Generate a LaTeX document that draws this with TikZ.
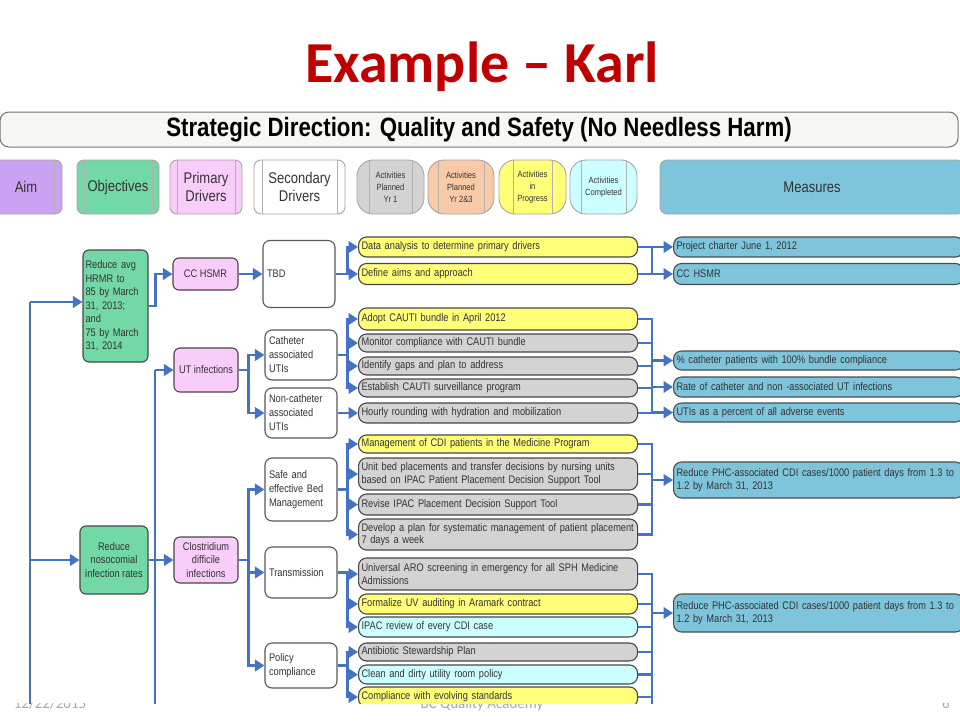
\documentclass[tikz,border=0pt]{standalone}
\usepackage{fontspec}
\setmainfont{Liberation Sans}[FakeStretch=0.84]
\newfontfamily\titlefont{Carlito}
\usetikzlibrary{arrows.meta}
\definecolor{titlered}{HTML}{C00000}
\definecolor{lineblue}{HTML}{4472C4}
\definecolor{cyell}{HTML}{FFFF78}
\definecolor{cgray}{HTML}{D3D3D3}
\definecolor{ccyan}{HTML}{CCFFFF}
\definecolor{cmeas}{HTML}{7EC5DC}
\definecolor{cgreen}{HTML}{72D8A6}
\definecolor{cpink}{HTML}{F9CDF9}
\definecolor{cpurple}{HTML}{CBA2F2}
\definecolor{corange}{HTML}{F9CAA8}
\definecolor{cbanner}{HTML}{F7F8F3}
\definecolor{txt}{HTML}{333333}
\definecolor{footgray}{HTML}{A6A6A6}
\tikzset{
  conn/.style={draw=lineblue, line width=2.3pt},
  arr/.style={conn, -{Triangle[length=9.5pt,width=11.5pt]}},
  hpic/.style={path picture={
     \draw[black!30, line width=0.8pt] ([xshift=#1]path picture bounding box.north west) -- ([xshift=#1]path picture bounding box.south west);
     \draw[black!30, line width=0.8pt] ([xshift=-#1]path picture bounding box.north east) -- ([xshift=-#1]path picture bounding box.south east);}},
  hdr/.style={draw=black!35, line width=0.9pt, rounded corners=7pt, minimum height=54pt, align=center, text=txt, font=\fontsize{15.5}{17.5}\selectfont, inner sep=0pt},
  hact/.style={hdr, rounded corners=16pt, font=\fontsize{9}{12}\selectfont},
  act/.style={draw=black!72, line width=1.1pt, rounded corners=8pt, anchor=west, text width=273pt, align=left, inner xsep=3pt, inner ysep=0pt, font=\fontsize{11}{12.5}\selectfont, text=txt},
  meas/.style={draw=black!70, line width=1.1pt, rounded corners=8pt, anchor=west, text width=284pt, align=left, inner xsep=3pt, inner ysep=0pt, font=\fontsize{11}{13}\selectfont, text=txt, fill=cmeas},
  leftbox/.style={draw=black!72, line width=1.1pt, rounded corners=6pt, inner sep=0pt, font=\fontsize{11}{13.5}\selectfont, text=txt},
  secbox/.style={draw=black!65, line width=1.1pt, rounded corners=7pt, fill=white, inner sep=0pt, font=\fontsize{11}{14}\selectfont, text=txt, align=left, minimum width=72pt, text width=64pt}
}
\newcommand\actnode[5]{\node[act, fill=#4, minimum height=#3pt] (#1) at (358,#2) {#5};}
\begin{document}
\begin{tikzpicture}[x=1pt,y=-1pt]
\useasboundingbox (0,0) rectangle (960,720);
% title
\node[font=\titlefont\bfseries\fontsize{58}{62}\selectfont, text=titlered] (title) at (482,67) {Example – Karl};
% footer (partly hidden behind the pasted diagram)
\node[font=\titlefont\fontsize{15}{16}\selectfont, text=footgray, anchor=base] (fdate) at (50,708) {12/22/2015};
\node[font=\titlefont\fontsize{15}{16}\selectfont, text=footgray, anchor=base] (facad) at (482,708) {BC Quality Academy};
\node[font=\titlefont\fontsize{15}{16}\selectfont, text=footgray, anchor=base] (fnum) at (946,708) {6};
\fill[white] (0,100) rectangle (960,703);
\begin{scope}
\clip (0,100) rectangle (960,703);
% banner
\node[draw=black!55, line width=1pt, fill=cbanner, rounded corners=9pt, minimum width=958pt, minimum height=35pt, inner sep=0pt, font=\bfseries\fontsize{26.5}{28}\selectfont] (banner) at (479,129.5) {Strategic Direction: Quality and Safety (No Needless Harm)};
% header row
\node[hdr, fill=cpurple, minimum width=72pt, hpic=8] (hAim) at (26,187) {Aim};
\node[hdr, fill=cgreen, minimum width=82pt, hpic=7] (hObj) at (118,187) {Objectives};
\node[hdr, fill=cpink, minimum width=72pt, hpic=7] (hPri) at (206,187) {Primary\\Drivers};
\node[hdr, fill=white, minimum width=91pt, hpic=8] (hSec) at (299.5,187) {Secondary\\Drivers};
\node[hact, fill=cgray, minimum width=67pt, hpic=12] (hA1) at (390.5,187) {Activities\\Planned\\Yr 1};
\node[hact, fill=corange, minimum width=66pt, hpic=10] (hA2) at (461,187) {Activities\\Planned\\Yr 2\&3};
\node[hact, fill=cyell, minimum width=67pt, hpic=14] (hA3) at (532.5,187) {Activities\\in\\Progress};
\node[hact, fill=ccyan, minimum width=67pt, hpic=11] (hA4) at (603.5,187) {Activities\\Completed};
\node[hdr, fill=cmeas, minimum width=304pt, hpic=13] (hMeas) at (812,187) {Measures};
% objectives
\node[leftbox, fill=cgreen, minimum width=65pt, minimum height=112pt, text width=60pt, align=left] (o1) at (115.5,306) {Reduce avg\\HRMR to\\85 by March\\31, 2013;\\and\\75 by March\\31, 2014};
\node[leftbox, fill=cgreen, minimum width=68pt, minimum height=68pt, align=center] (o2) at (114,560) {Reduce\\nosocomial\\infection rates};
% primary drivers
\node[leftbox, fill=cpink, minimum width=65pt, minimum height=32pt, align=center] (cc) at (205.5,274) {CC HSMR};
\node[leftbox, fill=cpink, minimum width=64pt, minimum height=44pt, align=center] (ut) at (206,370) {UT infections};
\node[leftbox, fill=cpink, minimum width=64pt, minimum height=46pt, align=center] (clo) at (206,560) {Clostridium\\difficile\\infections};
% secondary drivers
\node[secbox, minimum height=67pt] (tbd) at (299,274) {TBD};
\node[secbox, minimum height=50pt] (cat) at (301,355) {Catheter\\associated\\UTIs};
\node[secbox, minimum height=50pt] (ncat) at (301,413) {Non-catheter\\associated\\UTIs};
\node[secbox, minimum height=63pt] (safe) at (301,489.5) {Safe and\\effective Bed\\Management};
\node[secbox, minimum height=51pt] (trans) at (301,572.5) {Transmission};
\node[secbox, minimum height=45pt] (pol) at (301,665.5) {Policy\\compliance};
% activities
\actnode{a1}{247}{20}{cyell}{Data analysis to determine primary drivers}
\actnode{a2}{274}{21}{cyell}{Define aims and approach}
\actnode{a3}{319}{22}{cyell}{Adopt CAUTI bundle in April 2012}
\actnode{a4}{343}{18}{cgray}{Monitor compliance with CAUTI bundle}
\actnode{a5}{366}{18}{cgray}{Identify gaps and plan to address}
\actnode{a6}{388}{18}{cgray}{Establish CAUTI surveillance program}
\actnode{a7}{413}{20}{cgray}{Hourly rounding with hydration and mobilization}
\actnode{a8}{444}{18}{cyell}{Management of CDI patients in the Medicine Program}
\actnode{a9}{474}{32}{cgray}{\mbox{Unit bed placements and transfer decisions by nursing units}\\\mbox{based on IPAC Patient Placement Decision Support Tool}}
\actnode{a10}{504.5}{21}{cgray}{Revise IPAC Placement Decision Support Tool}
\actnode{a11}{534.5}{31}{cgray}{\mbox{Develop a plan for systematic management of patient placement}\\7 days a week}
\actnode{a12}{574}{32}{cgray}{\mbox{Universal ARO screening in emergency for all SPH Medicine}\\Admissions}
\actnode{a13}{604}{20}{cyell}{Formalize UV auditing in Aramark contract}
\actnode{a14}{627}{20}{ccyan}{IPAC review of every CDI case}
\actnode{a15}{652}{18}{cgray}{Antibiotic Stewardship Plan}
\actnode{a16}{674.5}{19}{ccyan}{Clean and dirty utility room policy}
\actnode{a17}{697}{20}{cyell}{Compliance with evolving standards}
% measures
\node[meas, minimum height=20pt] (m1) at (673,247) {Project charter June 1, 2012};
\node[meas, minimum height=21pt] (m2) at (673,274) {CC HSMR};
\node[meas, minimum height=19pt] (m3) at (673,360.5) {\% catheter patients with 100\% bundle compliance};
\node[meas, minimum height=20pt] (m4) at (673,387) {Rate of catheter and non -associated UT infections};
\node[meas, minimum height=19pt] (m5) at (673,412.5) {UTIs as a percent of all adverse events};
\node[meas, minimum height=36pt] (m6) at (673,480) {\mbox{Reduce PHC-associated CDI cases/1000 patient days from 1.3 to}\\1.2 by March 31, 2013};
\node[meas, minimum height=38pt] (m7) at (673,613) {\mbox{Reduce PHC-associated CDI cases/1000 patient days from 1.3 to}\\1.2 by March 31, 2013};
% left spines
\coordinate (sp1) at (30,302);
\coordinate (sp1b) at (30,720);
\coordinate (sp2) at (155,370);
\coordinate (sp2b) at (155,720);
\draw[conn] (sp1) -- (sp1b);
\draw[conn] (sp2) -- (sp2b);
\draw[arr] (sp1) -- (sp1 -| o1.west);
\draw[arr] (o2.west -| sp1) -- (o2.west);
\draw[arr] (o1.east) -- ++(7,0) |- (cc.west);
\draw[arr] (sp2) -- (ut.west);
\draw[arr] (o2.east) -- (clo.west);
\draw[arr] (cc.east) -- (tbd.west |- cc.east);
\foreach \t in {cat,ncat} \draw[arr] (ut.east) -- ++(10,0) |- (\t.west);
\foreach \t in {safe,trans,pol} \draw[arr] (clo.east) -- ++(10,0) |- (\t.west);
% secondary -> activities
\foreach \t in {a1,a2} \draw[arr] (tbd.east) -- ++(12,0) |- (\t.west);
\foreach \t in {a3,a4,a5,a6} \draw[arr] (cat.east) -- ++(10,0) |- (\t.west);
\draw[arr] (ncat.east) -- (ncat.east -| a7.west);
\foreach \t in {a8,a9,a10,a11} \draw[arr] (safe.east) -- ++(10,0) |- (\t.west);
\foreach \t in {a12,a13,a14} \draw[arr] (trans.east) -- ++(10,0) |- (\t.west);
\foreach \t in {a15,a16,a17} \draw[arr] (pol.east) -- ++(10,0) |- (\t.west);
% activities -> measures
\coordinate (rx) at (652,0);
\coordinate (rxb) at (652,720);
\draw[conn] (a1.east) -- (a1.east -| rx) -- (a2.east -| rx) -- (a2.east);
\draw[arr] (a1.east -| rx) -- (m1.west);
\draw[arr] (a2.east -| rx) -- (m2.west);
\draw[conn] (a3.east) -- (a3.east -| rx) -- (a7.east -| rx) -- (a7.east);
\foreach \a in {a4,a5,a6} \draw[conn] (\a.east) -- (\a.east -| rx);
\foreach \m in {m3,m4,m5} \draw[arr] (\m.west -| rx) -- (\m.west);
\draw[conn] (a8.east) -- (a8.east -| rx) -- (a11.east -| rx) -- (a11.east);
\foreach \a in {a9,a10} \draw[conn] (\a.east) -- (\a.east -| rx);
\draw[arr] (m6.west -| rx) -- (m6.west);
\draw[conn] (a12.east) -- (a12.east -| rx) -- (rxb);
\foreach \a in {a13,a14,a15,a16,a17} \draw[conn] (\a.east) -- (\a.east -| rx);
\draw[arr] (m7.west -| rx) -- (m7.west);
\end{scope}
\end{tikzpicture}
\end{document}
